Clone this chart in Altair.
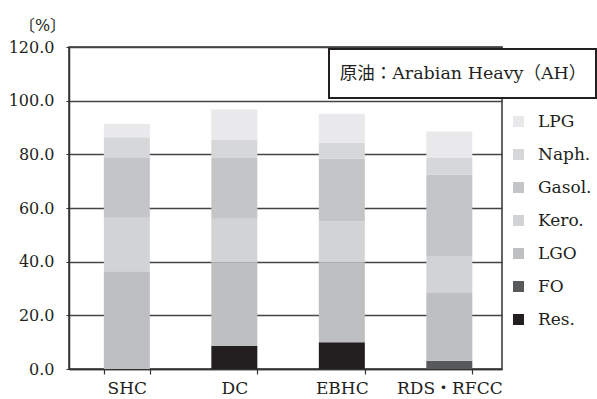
import altair as alt
import pandas as pd

# Product yields (wt%) for Arabian Heavy crude by process
processes = ["SHC", "DC", "EBHC", "RDS・RFCC"]
products = ["LPG", "Naph.", "Gasol.", "Kero.", "LGO", "FO", "Res."]
colors = ["#e9e9eb", "#d6d7d9", "#c4c5c7", "#d2d3d5", "#bebfc1", "#58595b", "#231f20"]

res = [0.0, 8.6, 10.0, 0.0]
fo = [0.0, 0.0, 0.0, 3.1]
lgo = [36.4, 31.1, 29.7, 25.5]
kero = [20.0, 16.3, 15.3, 13.5]
gasol = [22.5, 22.6, 23.4, 30.3]
naph = [7.5, 6.9, 6.0, 6.2]
lpg = [5.0, 11.2, 10.7, 9.9]

series = {
    "Res.": res,
    "FO": fo,
    "LGO": lgo,
    "Kero.": kero,
    "Gasol.": gasol,
    "Naph.": naph,
    "LPG": lpg,
}

rows = []
for order, (name, vals) in enumerate(series.items()):
    for proc, v in zip(processes, vals):
        rows.append({"process": proc, "product": name, "value": v, "ord": order})
df = pd.DataFrame(rows)

FONT = "DejaVu Serif, Noto Sans CJK JP"
INK = "#231f20"

bars = alt.Chart(df).mark_bar(size=46).encode(
    x=alt.X(
        "process:N",
        sort=processes,
        title=None,
        scale=alt.Scale(paddingInner=0.572, paddingOuter=0.3, align=0.54),
        axis=alt.Axis(
            labelAngle=0,
            labelFontSize=17,
            labelColor=INK,
            labelPadding=6,
            tickBand="extent",
            tickSize=5,
            tickWidth=1.2,
            tickColor="#333333",
            domainColor="#333333",
            domainWidth=1.5,
            grid=False,
        ),
    ),
    y=alt.Y(
        "value:Q",
        stack="zero",
        title="〔%〕",
        scale=alt.Scale(domain=[0, 120], nice=False),
        axis=alt.Axis(
            values=[0, 20, 40, 60, 80, 100, 120],
            format=".1f",
            labelFontSize=16,
            labelColor=INK,
            labelPadding=12,
            tickSize=3,
            tickColor="#333333",
            domainColor="#333333",
            domainWidth=1.5,
            gridColor="#444444",
            gridWidth=1.4,
            titleAngle=0,
            titleFontSize=16,
            titleFontWeight="normal",
            titleColor=INK,
            titleX=-27,
            titleY=-22,
            titleAlign="center",
            titleBaseline="middle",
        ),
    ),
    color=alt.Color(
        "product:N",
        scale=alt.Scale(domain=products, range=colors),
        legend=alt.Legend(
            title=None,
            orient="none",
            legendX=441,
            legendY=66,
            symbolType="square",
            symbolSize=121,
            symbolStrokeWidth=0,
            labelFontSize=17,
            labelColor=INK,
            labelOffset=11,
            rowPadding=15,
            padding=0,
        ),
    ),
    order=alt.Order("ord:Q", sort="ascending"),
)

note_box = alt.Chart().mark_rect(
    fill="white", stroke=INK, strokeWidth=2
).encode(
    x=alt.value(260), x2=alt.value(527), y=alt.value(2), y2=alt.value(51)
)

note_text = alt.Chart().mark_text(
    text="原油：Arabian Heavy（AH）",
    fontSize=17.5,
    font=FONT,
    color=INK,
    align="center",
    baseline="middle",
).encode(x=alt.value(394), y=alt.value(27))

chart = (
    alt.layer(bars, note_box, note_text)
    .properties(
        width=433,
        height=322,
        autosize=alt.AutoSizeParams(type="none"),
        padding={"left": 69, "top": 47, "right": 95, "bottom": 30},
    )
    .configure(font=FONT, background="white")
    .configure_view(stroke="#333333", strokeWidth=1.5)
)

chart.save("out.html", embed_options={"renderer": "svg", "actions": False})
